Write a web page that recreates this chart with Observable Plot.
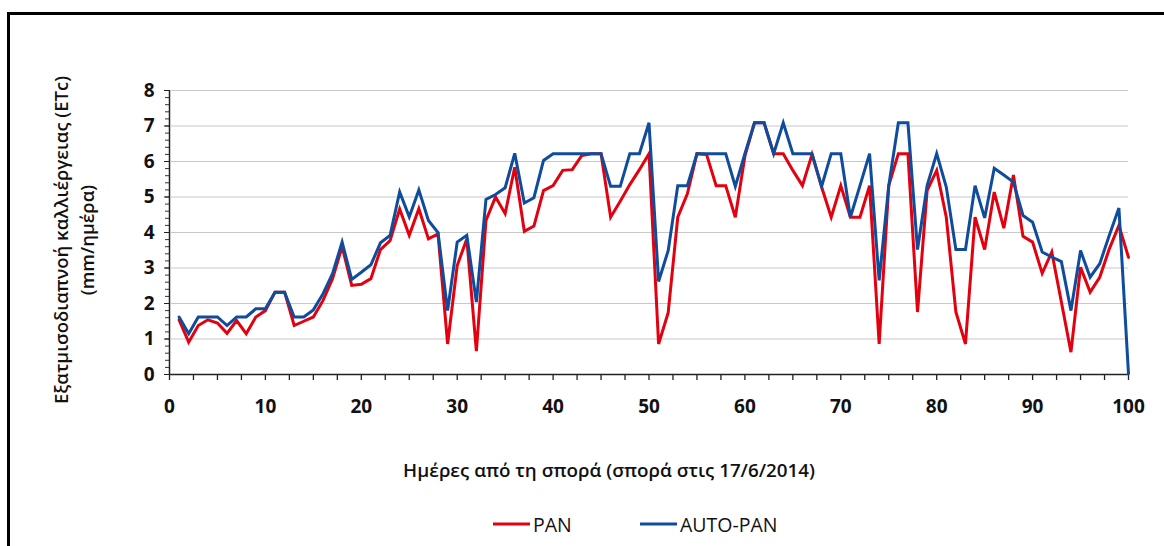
<!DOCTYPE html>
<html>
<head>
<meta charset="utf-8">
<script src="https://cdn.jsdelivr.net/npm/d3@7"></script>
<script src="https://cdn.jsdelivr.net/npm/@observablehq/plot@0.6"></script>
<style>
  html, body { margin: 0; padding: 0; background: #fff; overflow: hidden; }
  #wrap { position: relative; width: 1164px; height: 546px; overflow: hidden; }
  #frame { position: absolute; left: 7px; top: 12px; width: 1300px; height: 700px;
           border-left: 3px solid #000; border-top: 3px solid #000; }
  .t { position: absolute; font-family: "Open Sans", sans-serif; color: #111; white-space: nowrap; }
  #ylab { left: 74px; top: 240px; transform: translate(-50%, -50%) rotate(-90deg);
          text-align: center; font-weight: 600; font-size: 18.5px; line-height: 26px; }
  #xlab { left: 609px; top: 470px; transform: translate(-50%, -50%); font-weight: 600; font-size: 18.8px; }
  .leg { top: 524px; transform: translateY(-50%); font-size: 19.5px; font-weight: 500; display: flex; align-items: center; }
  .leg span.sw { display: inline-block; width: 37px; height: 3px; margin-right: 3px; }
</style>
</head>
<body>
<div id="wrap">
  <div id="frame"></div>
  <div id="chart"></div>
</div>
<script>
const days = [1,2,3,4,5,6,7,8,9,10,11,12,13,14,15,16,17,18,19,20,21,22,23,24,25,26,27,28,29,30,
  31,32,33,34,35,36,37,38,39,40,41,42,43,44,45,46,47,48,49,50,51,52,53,54,55,56,57,58,59,60,
  61,62,63,64,65,66,67,68,69,70,71,72,73,74,75,76,77,78,79,80,81,82,83,84,85,86,87,88,89,90,
  91,92,93,94,95,96,97,98,99,100];

const pan = [1.54,0.91,1.38,1.54,1.45,1.16,1.52,1.15,1.62,1.80,
  2.32,2.32,1.38,1.50,1.62,2.08,2.70,3.60,2.51,2.54,
  2.70,3.52,3.77,4.66,3.92,4.67,3.82,3.96,0.86,3.07,
  3.82,0.66,4.34,5.00,4.53,5.84,4.03,4.18,5.18,5.32,
  5.75,5.77,6.17,6.22,6.22,4.43,4.88,5.35,5.77,6.22,
  0.86,1.74,4.43,5.09,6.22,6.20,5.32,5.32,4.43,6.15,
  7.09,7.09,6.22,6.22,5.75,5.32,6.20,5.28,4.43,5.32,
  4.43,4.43,5.32,0.86,5.32,6.22,6.22,1.76,5.18,5.75,
  4.43,1.76,0.86,4.43,3.52,5.14,4.12,5.62,3.89,3.73,
  2.85,3.45,2.04,0.63,3.02,2.32,2.74,3.54,4.20,3.30];

const autoPan = [1.62,1.15,1.62,1.62,1.62,1.38,1.62,1.62,1.85,1.85,
  2.32,2.32,1.62,1.62,1.82,2.27,2.84,3.73,2.68,2.88,
  3.09,3.71,3.92,5.14,4.44,5.20,4.34,4.00,1.80,3.73,
  3.92,2.04,4.93,5.07,5.26,6.23,4.83,4.98,6.03,6.22,
  6.22,6.22,6.22,6.22,6.22,5.30,5.30,6.22,6.22,7.09,
  2.62,3.49,5.32,5.32,6.22,6.22,6.22,6.22,5.30,6.22,
  7.09,7.09,6.22,7.09,6.22,6.22,6.22,5.30,6.22,6.22,
  4.43,5.32,6.22,2.65,5.32,7.09,7.09,3.52,5.32,6.22,
  5.28,3.52,3.52,5.32,4.41,5.81,5.62,5.42,4.48,4.29,
  3.45,3.31,3.18,1.80,3.49,2.74,3.12,3.92,4.69,0.02];

const seriesNames = ["PAN", "AUTO-PAN"];
const seriesColors = ["#e3000f", "#0f4c9c"];
const xTickLabels = [0,10,20,30,40,50,60,70,80,90,100];
const yTickLabels = [0,1,2,3,4,5,6,7,8];
const xLabel = "Ημέρες από τη σπορά (σπορά στις 17/6/2014)";
const yLabel1 = "Εξατμισοδιαπνοή καλλιέργειας (ETc)";
const yLabel2 = "(mm/ημέρα)";

const rows = [];
seriesNames.forEach((name, si) => {
  const vals = si === 0 ? pan : autoPan;
  days.forEach((d, i) => rows.push({day: d, value: vals[i], series: name}));
});

const xMinor = d3.range(0, 100.001, 2.5);
const yMinor = d3.range(0, 8.001, 0.2);

const chart = Plot.plot({
  width: 1164,
  height: 546,
  marginLeft: 169,
  marginRight: 36,
  marginTop: 90,
  marginBottom: 172,
  style: {fontFamily: "Open Sans, sans-serif", fontSize: "19px", fontWeight: 700, color: "#111", background: "transparent", overflow: "visible"},
  x: {domain: [0, 100], label: null},
  y: {domain: [0, 8], label: null},
  color: {domain: seriesNames, range: seriesColors},
  marks: [
    Plot.gridY(yTickLabels.filter(v => v > 0), {stroke: "#c8c8c8", strokeOpacity: 1, strokeWidth: 1.2, x1: 0.2, x2: 100}),
    Plot.axisY(yMinor, {tickSize: 4, tickFormat: () => "", stroke: "#333", strokeOpacity: 1, strokeWidth: 1}),
    Plot.axisY(yTickLabels, {tickSize: 5, tickPadding: 10, tickFormat: d => d, stroke: "#222", strokeOpacity: 1}),
    Plot.axisX(xMinor, {tickSize: 6, tickPadding: 19, tickFormat: d => (d % 10 === 0 ? d : ""), stroke: "#222", strokeOpacity: 1, strokeWidth: 1.3}),
    Plot.ruleY([0], {stroke: "#222", strokeWidth: 1.5}),
    Plot.ruleX([0], {stroke: "#222", strokeWidth: 1.5}),
    Plot.line(rows.filter(r => r.series === "PAN"), {x: "day", y: "value", stroke: "series", strokeWidth: 3, strokeLinejoin: "miter", strokeMiterlimit: 4}),
    Plot.line(rows.filter(r => r.series === "AUTO-PAN"), {x: "day", y: "value", stroke: "series", strokeWidth: 3, strokeLinejoin: "miter", strokeMiterlimit: 4})
  ]
});
document.getElementById("chart").appendChild(chart);

const wrap = document.getElementById("wrap");
function addText(id, cls, html, styleObj) {
  const el = document.createElement("div");
  if (id) el.id = id;
  el.className = cls;
  el.innerHTML = html;
  Object.assign(el.style, styleObj || {});
  wrap.appendChild(el);
  return el;
}
addText("ylab", "t", yLabel1 + "<br>" + yLabel2);
addText("xlab", "t", xLabel);
const legendLeft = [493, 640];
seriesNames.forEach((n, i) => {
  addText(null, "t leg", `<span class="sw" style="background:${seriesColors[i]}"></span>${n}`, {left: legendLeft[i] + "px"});
});
</script>
</body>
</html>
